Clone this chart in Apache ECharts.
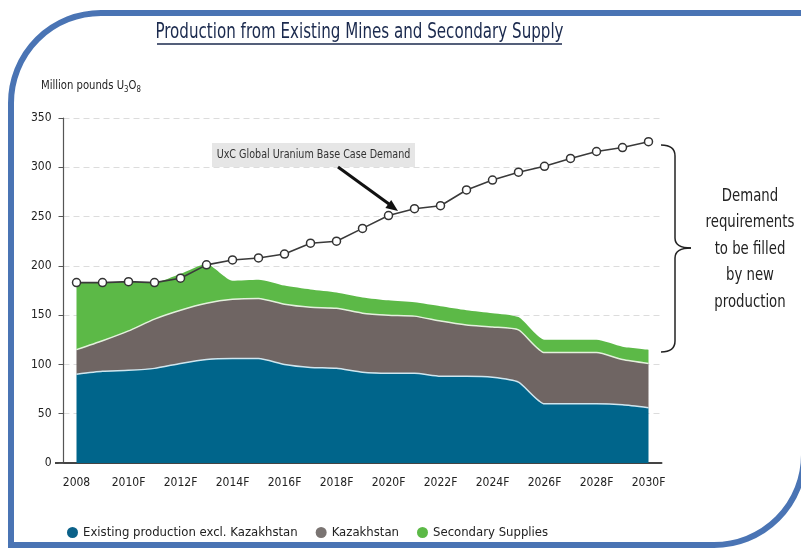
<!DOCTYPE html>
<html>
<head>
<meta charset="utf-8">
<script src="https://cdn.jsdelivr.net/npm/echarts@6/dist/echarts.min.js"></script>
<style>
  html, body { margin: 0; padding: 0; background: #fff; }
  #chart { width: 801px; height: 548px; }
</style>
</head>
<body>
<div id="chart"></div>
<script>
// years on the x axis (only every second label is shown)
var years = ['2008', '2009F', '2010F', '2011F', '2012F', '2013F', '2014F', '2015F', '2016F', '2017F', '2018F', '2019F',
    '2020F', '2021F', '2022F', '2023F', '2024F', '2025F', '2026F', '2027F', '2028F', '2029F', '2030F'];

// stacked supply, million lbs U3O8
var existing  = [90, 93, 94, 96, 101, 105, 106, 106, 100, 97, 96, 92, 91, 91, 88, 88, 87, 82, 60, 60, 60, 59, 56];
var kazakh    = [25, 31, 40, 50, 54, 57, 60, 61, 61, 61, 61, 60, 59, 58, 56, 52, 51, 53, 52, 52, 52, 46, 45];
var secondary = [68, 59, 50, 37, 37, 40, 19, 19, 19, 18, 16, 16, 15, 14, 15, 15, 14, 13, 13, 13, 13, 13, 14];

// UxC base case demand
var demand = [183, 183, 184, 183, 187.5, 201, 206, 208, 212, 223, 225, 238, 251, 258, 261, 277, 287, 295, 301, 309, 316, 320, 326];

var yTicks = [0, 50, 100, 150, 200, 250, 300, 350];

var cond = "'DejaVu Sans Condensed', 'DejaVu Sans', sans-serif";
var ink = '#222';

var chart = echarts.init(document.getElementById('chart'));

// brace pieces, right of the plot
var brace = [
    { type: 'bezierCurve', shape: { x1: 661, y1: 145, x2: 675, y2: 156, cpx1: 675, cpy1: 145 } },
    { type: 'line', shape: { x1: 675, y1: 156, x2: 675, y2: 238 } },
    { type: 'bezierCurve', shape: { x1: 675, y1: 238, x2: 691, y2: 248, cpx1: 675, cpy1: 248 } },
    { type: 'bezierCurve', shape: { x1: 691, y1: 248, x2: 675, y2: 258, cpx1: 675, cpy1: 248 } },
    { type: 'line', shape: { x1: 675, y1: 258, x2: 675, y2: 341 } },
    { type: 'bezierCurve', shape: { x1: 675, y1: 341, x2: 661, y2: 352, cpx1: 675, cpy1: 352 } }
];
brace.forEach(function (b) { b.style = { fill: null, stroke: ink, lineWidth: 1.5 }; });

var option = {
    animation: false,
    legend: {
        data: ['Existing production excl. Kazakhstan', 'Kazakhstan', 'Secondary Supplies'],
        left: 62,
        top: 521,
        icon: 'circle',
        itemWidth: 11,
        itemHeight: 11,
        itemGap: 18,
        textStyle: { fontFamily: cond, fontSize: 13, color: ink }
    },
    grid: { left: 63.5, right: 139.5, top: 118, bottom: 85 },
    xAxis: {
        type: 'category',
        data: years,
        boundaryGap: true,
        axisLine: { lineStyle: { color: '#444', width: 2 } },
        axisTick: { interval: 0, length: 5, lineStyle: { color: '#444' } },
        axisLabel: { interval: 1, margin: 14, fontFamily: cond, fontSize: 12, color: ink },
        splitLine: { show: false }
    },
    yAxis: {
        type: 'value',
        min: yTicks[0],
        max: yTicks[yTicks.length - 1],
        interval: 50,
        axisLine: { show: true, lineStyle: { color: '#555', width: 1.2 } },
        axisTick: { show: true, length: 5, lineStyle: { color: '#555' } },
        axisLabel: { margin: 12, fontFamily: cond, fontSize: 12, color: ink },
        splitLine: { lineStyle: { color: '#dcdcdc', type: [6, 4], width: 1 } }
    },
    graphic: [
        // blue frame
        { type: 'rect', shape: { x: 11, y: 13, width: 793, height: 532, r: [90, 0, 90, 0] },
          style: { fill: null, stroke: '#4a74b4', lineWidth: 6 }, z: 100 },
        // title (narrowed) + underline
        { type: 'text', x: 359.5, y: 33, scaleX: 0.8,
          style: { text: 'Production from Existing Mines and Secondary Supply', fontFamily: cond, fontSize: 21,
                   fill: '#1b2a4e', align: 'center', verticalAlign: 'middle' } },
        { type: 'line', shape: { x1: 157, y1: 44, x2: 562, y2: 44 }, style: { stroke: '#1b2a4e', lineWidth: 1.3 } },
        // short stub of the x axis left of the y axis
        { type: 'line', shape: { x1: 55, y1: 463, x2: 64, y2: 463 }, style: { stroke: '#444', lineWidth: 2 } },
        // y axis unit
        { type: 'text', x: 41, y: 78, scaleX: 0.86,
          style: {
              text: '{a|Million pounds U}{s|3}{a|O}{s|8}',
              rich: {
                  a: { fontFamily: cond, fontSize: 13, fill: ink },
                  s: { fontFamily: cond, fontSize: 9, fill: ink, verticalAlign: 'bottom', padding: [7, 0, 0, 0] }
              }
          } },
        // annotation label + arrow
        { type: 'rect', shape: { x: 212, y: 143, width: 203, height: 24 }, style: { fill: '#e6e6e6' }, z: 10 },
        { type: 'text', x: 313.5, y: 155, z: 11, scaleX: 0.82,
          style: { text: 'UxC Global Uranium Base Case Demand', fontFamily: cond, fontSize: 13, fill: '#333',
                   align: 'center', verticalAlign: 'middle' } },
        { type: 'line', shape: { x1: 338, y1: 167, x2: 389, y2: 204 }, style: { stroke: '#111', lineWidth: 3 }, z: 11 },
        { type: 'polygon', shape: { points: [[398, 211], [385.4, 207.9], [391.2, 199.9]] }, style: { fill: '#111' }, z: 11 },
        // brace note
        { type: 'text', x: 750, y: 249, scaleX: 0.82,
          style: { text: 'Demand\nrequirements\nto be filled\nby new\nproduction', fontFamily: cond, fontSize: 18,
                   lineHeight: 26.5, fill: ink, align: 'center', verticalAlign: 'middle' } }
    ].concat(brace),
    series: [
        {
            name: 'Existing production excl. Kazakhstan',
            type: 'line',
            stack: 'supply',
            data: existing,
            symbol: 'none',
            smooth: 0.2,
            color: '#0b6189',
            lineStyle: { color: '#cfe6ef', width: 1.5 },
            areaStyle: { color: '#00658b', opacity: 1 }
        },
        {
            name: 'Kazakhstan',
            type: 'line',
            stack: 'supply',
            data: kazakh,
            symbol: 'none',
            smooth: 0.2,
            color: '#7a7472',
            lineStyle: { color: '#e3f1dc', width: 1.5 },
            areaStyle: { color: '#6f6563', opacity: 1 }
        },
        {
            name: 'Secondary Supplies',
            type: 'line',
            stack: 'supply',
            data: secondary,
            symbol: 'none',
            smooth: 0.2,
            color: '#5cb947',
            lineStyle: { width: 0 },
            areaStyle: { color: '#5cb947', opacity: 1 }
        },
        {
            name: 'Demand',
            type: 'line',
            data: demand,
            z: 5,
            symbol: 'circle',
            symbolSize: 8,
            lineStyle: { color: '#3a3a3a', width: 1.6 },
            itemStyle: { color: '#fff', borderColor: '#333', borderWidth: 1.5 }
        }
    ]
};

chart.setOption(option);
</script>
</body>
</html>
